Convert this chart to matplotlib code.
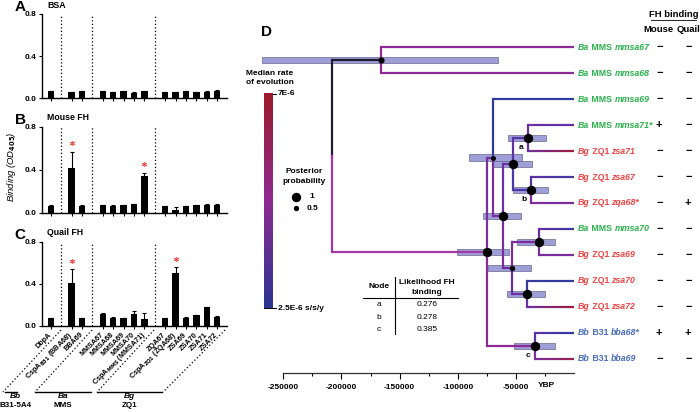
import numpy as np
import matplotlib
matplotlib.use("Agg")
import matplotlib.pyplot as plt
from matplotlib.colors import LinearSegmentedColormap, to_rgb
from matplotlib.collections import LineCollection
from matplotlib.patches import Rectangle

plt.rcParams["font.family"] = ["Liberation Sans", "DejaVu Sans"]
plt.rcParams["font.weight"] = "bold"
plt.rcParams["mathtext.default"] = "bf"
plt.rcParams["axes.unicode_minus"] = False

W, H = 700, 412

# ---- panels A-C: binding ELISA ----
proteins = ["DbpA", "CspA$_{B31}$ (BBA68)", "BBA69", "MMSA67", "MMSA68", "MMSA69",
            "MMSA70", "CspA$_{MMS}$ (MMSA71)", "ZQA67", "CspA$_{ZQ1}$ (ZQA68)",
            "ZSA69", "ZSA70", "ZSA71", "ZSA72"]
slots = [0, 2, 3, 5, 6, 7, 8, 9, 11, 12, 13, 14, 15, 16]
group_breaks = [1, 4, 10]

bsa_od = [0.065, 0.06, 0.065, 0.065, 0.06, 0.065, 0.055, 0.065, 0.06, 0.06, 0.065, 0.06, 0.062, 0.065]
bsa_err = [0.004, 0.003, 0.004, 0.005, 0.004, 0.006, 0.004, 0.004, 0.004, 0.004, 0.005, 0.004, 0.005, 0.012]
mouse_od = [0.065, 0.42, 0.065, 0.07, 0.065, 0.07, 0.08, 0.344, 0.06, 0.025, 0.06, 0.07, 0.075, 0.075]
mouse_err = [0.004, 0.145, 0.003, 0.005, 0.004, 0.004, 0.005, 0.028, 0.004, 0.025, 0.004, 0.005, 0.005, 0.006]
quail_od = [0.073, 0.41, 0.073, 0.11, 0.08, 0.075, 0.11, 0.07, 0.075, 0.506, 0.08, 0.10, 0.177, 0.085]
quail_err = [0.004, 0.13, 0.004, 0.01, 0.005, 0.004, 0.035, 0.05, 0.004, 0.05, 0.005, 0.006, 0.005, 0.006]
mouse_sig = [1, 7]
quail_sig = [1, 9]

group_names = [("Bb", "B31-5A4"), ("Ba", "MMS"), ("Bg", "ZQ1")]

# ---- panel D: dated tree ----
tip_species = ["Ba", "Ba", "Ba", "Ba", "Bg", "Bg", "Bg", "Ba", "Bg", "Bg", "Bg", "Bb", "Bb"]
tip_strain = ["MMS", "MMS", "MMS", "MMS", "ZQ1", "ZQ1", "ZQ1", "MMS", "ZQ1", "ZQ1", "ZQ1", "B31", "B31"]
tip_gene = ["mmsa67", "mmsa68", "mmsa69", "mmsa71*", "zsa71", "zsa67", "zqa68*",
            "mmsa70", "zsa69", "zsa70", "zsa72", "bba68*", "bba69"]
mouse_bind = ["−", "−", "−", "+", "−", "−", "−", "−", "−", "−", "−", "+", "−"]
quail_bind = ["−", "−", "−", "−", "−", "−", "+", "−", "−", "−", "−", "+", "−"]

node_names = ["root", "U", "R", "N1", "N5", "N3", "a", "b", "N8", "N6", "N9", "c"]
node_children = [["U", "R"], [0, 1], ["N1", "c"], [2, "N5"], ["N3", "N8"], ["a", "b"],
                 [3, 4], [5, 6], ["N6", "N9"], [7, 8], [9, 10], [11, 12]]
node_age = [-208000, -166000, -75200, -69500, -60900, -52300, -40000, -37100,
            -53700, -30000, -40300, -33700]
hpd_low = [np.nan, -268600, -100700, -90400, -78600, -70000, -56900, -52900,
           -74100, -49400, -58000, -51700]
hpd_high = [np.nan, -65500, -56000, -44900, -45700, -36500, -24200, -22700,
            -37400, -16500, -25300, -16500]
posterior = [np.nan, 0.6, 1, 0.45, 1, 1, 1, 1, 0.5, 1, 1, 1]

branch_keys = ["U", "R", 0, 1, "N1", 2, "N5", "N3", "a", 3, 4, "b", 5, 6,
               "N8", "N6", 7, 8, "N9", 9, 10, "c", 11, 12]
branch_start = ["#1c1c30", "#a33aa3", "#8e2a96", "#8e2a96", "#7b2e9e", "#2f3d9c",
                "#7b2e9e", "#6a30a0", "#5a34a4", "#6a30a0", "#6a30a0", "#4a38a4",
                "#5a34a4", "#7a2e9e", "#7a2e9e", "#7a2e9e", "#6a30a0", "#7a2e9e",
                "#6a30a0", "#3a3a9e", "#6a30a0", "#8e2a96", "#5a34a4", "#7a2e9e"]
branch_end = ["#1c1c30", "#a33aa3", "#8e2a96", "#8e2a96", "#7b2e9e", "#2f3d9c",
              "#7b2e9e", "#6a30a0", "#5a34a4", "#5e32a2", "#a01c3a", "#4a38a4",
              "#4038a0", "#7a2e9e", "#7a2e9e", "#7a2e9e", "#343c9c", "#7a2e9e",
              "#6a30a0", "#2f3d9c", "#a01c3a", "#8e2a96", "#2f3d9c", "#9a2050"]

node_letters = ["a", "b", "c"]
table_values = ["0.276", "0.278", "0.385"]

species_color = {"Ba": "#2bb24c", "Bg": "#f04444", "Bb": "#4a6cc0"}
rate_cmap = LinearSegmentedColormap.from_list("rate", ["#2b3590", "#8e2a90", "#9b1b2a"])

fig = plt.figure(figsize=(W / 100, H / 100), dpi=100)

# overlay in pixel coordinates for labels and annotations
ov = fig.add_axes([0, 0, 1, 1], zorder=5)
ov.set_xlim(0, W)
ov.set_ylim(H, 0)
ov.axis("off")

# ---------------- bar panels ----------------
bar_panels = [
    ("A", "BSA", bsa_od, bsa_err, [], 14.0, 98.3),
    ("B", "Mouse FH", mouse_od, mouse_err, mouse_sig, 126.7, 212.7),
    ("C", "Quail FH", quail_od, quail_err, quail_sig, 241.7, 326.0),
]
for letter, title, vals, errs, sig, top, bot in bar_panels:
    ax = fig.add_axes([42 / W, 1 - bot / H, 185 / W, (bot - top) / H])
    ax.bar(slots, vals, width=0.62, color="black", zorder=2)
    ax.errorbar(slots, vals, yerr=[np.zeros(len(vals)), errs], fmt="none",
                ecolor="black", elinewidth=0.8, capsize=1.6, capthick=0.8, zorder=2)
    for i in sig:
        ax.plot(slots[i], vals[i] + errs[i] + 0.08, marker=(6, 2, 0),
                color="#f25c5c", ms=3.5, mew=0.8, zorder=3)
    for b in group_breaks:
        ax.axvline(b, color="black", lw=0.9, ls=(0, (1, 1.8)), zorder=1)
    ax.set_xlim(-0.85, 16.95)
    ax.set_ylim(0, 0.8)
    ax.set_yticks([0, 0.4, 0.8])
    ax.set_yticklabels(["0.0", "0.4", "0.8"], fontsize=6)
    ax.set_xticks(slots)
    ax.tick_params(axis="x", length=2.5, width=0.8, direction="out")
    ax.tick_params(axis="y", length=2.5, width=0.8, pad=1.5)
    for s in ["top", "right"]:
        ax.spines[s].set_visible(False)
    for s in ["left", "bottom"]:
        ax.spines[s].set_linewidth(1.0)
    if letter == "C":
        labs = ax.set_xticklabels(proteins, rotation=45, ha="right",
                                  rotation_mode="anchor", fontsize=5.2)
        plt.setp(labs, va="center")
        ax.tick_params(axis="x", pad=3)
    else:
        ax.set_xticklabels([])
    ov.text(20, top - 7, letter, fontsize=11, fontweight="bold", ha="center", va="center")
    ov.text(47, top - 9, title, fontsize=6.3, fontweight="bold", ha="left", va="center")

ov.text(12, 167, "Binding (OD$_{\\mathit{405}}$)", rotation=90, fontsize=6.8,
        style="italic", fontweight="normal", ha="center", va="center")

# diagonal dotted guides and strain groups under panel C
for (x0, x1) in [(61, 3), (92, 35), (154, 97), (225, 163)]:
    ov.plot([x0, x1], [330, 392], color="black", lw=0.9, ls=(0, (1, 1.8)))
for (sp, st), (xa, xb) in zip(group_names, [(5, 17), (35, 90.7), (96.7, 162.3)]):
    ov.plot([xa, xb], [392, 392], color="black", lw=1.0)
    cx = 15 if sp == "Bb" else (xa + xb) / 2
    ov.text(cx, 397, sp, fontsize=6, style="italic", ha="center", va="center")
    ov.text(cx, 405.7, st, fontsize=5.8, ha="center", va="center")

# ---------------- tree panel ----------------
px_per_year = 1 / 859.5
ax_t = fig.add_axes([240 / W, 1 - 373 / H, (574.2 - 240) / W, (373 - 20) / H])
ax_t.set_xlim(-250000 - (283.3 - 240) / px_per_year, 0)
ax_t.set_ylim(12.54, -1.04)
ax_t.set_facecolor("none")
for s in ["top", "right", "left"]:
    ax_t.spines[s].set_visible(False)
ax_t.spines["bottom"].set_bounds(-250000, 0)
ax_t.spines["bottom"].set_linewidth(0.9)
ax_t.spines["bottom"].set_color("#333333")
major = list(range(-250000, -49999, 50000))
ax_t.set_xticks(major)
ax_t.set_xticklabels([str(v) for v in major], fontsize=6)
ax_t.set_xticks(list(range(-225000, 0, 50000)), minor=True)
ax_t.tick_params(axis="x", which="major", length=4, width=0.8, pad=4)
ax_t.tick_params(axis="x", which="minor", length=2.5, width=0.8)
ax_t.set_yticks([])
ov.text(538, 385.5, "YBP", fontsize=6, ha="left", va="center")

node_idx = {n: k for k, n in enumerate(node_names)}
branch_idx = {k: i for i, k in enumerate(branch_keys)}


def ypos(key):
    if isinstance(key, int):
        return float(key)
    return float(np.mean([ypos(c) for c in node_children[node_idx[key]]]))


def xpos(key):
    return 0.0 if isinstance(key, int) else node_age[node_idx[key]]


def gradient_hline(x0, x1, y, c0, c1, n=40):
    xs = np.linspace(x0, x1, n + 1)
    segs = [[(xs[k], y), (xs[k + 1], y)] for k in range(n)]
    t = np.linspace(0, 1, n)[:, None]
    cols = (1 - t) * np.array(to_rgb(c0)) + t * np.array(to_rgb(c1))
    ax_t.add_collection(LineCollection(segs, colors=cols, linewidths=1.6, zorder=2))


for name, kids in zip(node_names, node_children):
    px, py = xpos(name), ypos(name)
    for kid in kids:
        cx, cy = xpos(kid), ypos(kid)
        bi = branch_idx[kid]
        c0, c1 = branch_start[bi], branch_end[bi]
        ax_t.plot([px, px], [py, cy], color=c0, lw=1.6, solid_capstyle="projecting", zorder=2)
        gradient_hline(px, cx, cy, c0, c1)

for k, name in enumerate(node_names):
    if np.isnan(hpd_low[k]):
        continue
    y = ypos(name)
    ax_t.add_patch(Rectangle((hpd_low[k], y - 0.12), hpd_high[k] - hpd_low[k], 0.24,
                             facecolor="#8e8ed2", edgecolor="#6a6a95", lw=0.6,
                             alpha=0.85, zorder=1.5))
    ax_t.scatter(node_age[k], y, s=33 * posterior[k] ** 2, color="black", zorder=4)
    if name in node_letters:
        ax_t.text(node_age[k] - 6000, y + 0.36, name, fontsize=6, ha="center",
                  va="center", zorder=4)

# tip labels and binding columns
renderer = fig.canvas.get_renderer()
for i in range(len(tip_gene)):
    yd = H - ax_t.transData.transform((0, i))[1]
    col = species_color[tip_species[i]]
    x = 578.0
    for piece, sty in [(tip_species[i], "italic"), (" " + tip_strain[i] + " ", "normal"),
                       (tip_gene[i], "italic")]:
        t = ov.text(x, yd, piece, fontsize=6.3, color=col, style=sty, ha="left", va="center")
        x += t.get_window_extent(renderer).width
    ov.text(659.3, yd, mouse_bind[i], fontsize=8, ha="center", va="center")
    ov.text(688.3, yd, quail_bind[i], fontsize=8, ha="center", va="center")

ov.text(673.5, 14, "FH binding", fontsize=6.8, ha="center", va="center")
ov.plot([651, 696], [19.5, 19.5], color="black", lw=0.6)
ov.text(658, 29.5, "Mouse", fontsize=6.8, ha="center", va="center")
ov.text(688.5, 29.5, "Quail", fontsize=6.8, ha="center", va="center")

ov.text(267, 32, "D", fontsize=11, ha="center", va="center")

# colour bar for rate
grad = np.linspace(0, 1, 256)[:, None]
ov.imshow(grad, extent=[264.3, 272.7, 308, 93.3], origin="lower", aspect="auto",
          cmap=rate_cmap, zorder=1)
ov.set_xlim(0, W)
ov.set_ylim(H, 0)
ov.plot([272.7, 276], [93.6, 93.6], color="black", lw=0.7)
ov.plot([264.3, 276], [308, 308], color="black", lw=0.7)
ov.text(246, 73.3, "Median rate", fontsize=6, ha="left", va="center")
ov.text(246, 82.8, "of evolution", fontsize=6, ha="left", va="center")
ov.text(278, 93.5, "7E-6", fontsize=6, ha="left", va="center")
ov.text(277.5, 308.5, "2.5E-6 s/s/y", fontsize=6, ha="left", va="center")

# posterior legend
ov.text(304, 171.7, "Posterior", fontsize=6, ha="center", va="center")
ov.text(304, 181.7, "probability", fontsize=6, ha="center", va="center")
ov.scatter([295.7], [196.7], s=33, color="black")
ov.scatter([296], [208], s=8, color="black")
ov.text(309, 196.7, "1", fontsize=6, ha="left", va="center")
ov.text(307, 208, "0.5", fontsize=6, ha="left", va="center")

# likelihood table
ov.text(379, 287, "Node", fontsize=6, ha="center", va="center")
ov.text(427, 283, "Likelihood FH", fontsize=6, ha="center", va="center")
ov.text(427, 293, "binding", fontsize=6, ha="center", va="center")
ov.plot([395, 395], [277, 334], color="black", lw=0.8)
ov.plot([362.7, 458], [297.7, 297.7], color="black", lw=0.8)
for k, (lab, val) in enumerate(zip(node_letters, table_values)):
    ov.text(379, 305 + 12.3 * k, lab, fontsize=6, fontweight="normal", ha="center", va="center")
    ov.text(427, 305 + 12.3 * k, val, fontsize=6, fontweight="normal", ha="center", va="center")

fig.savefig("out.png", dpi=100)
